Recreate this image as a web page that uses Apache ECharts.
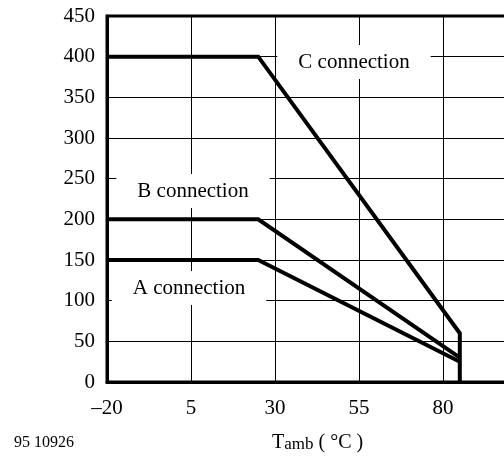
<!DOCTYPE html>
<html>
<head>
<meta charset="utf-8">
<script src="https://cdn.jsdelivr.net/npm/echarts@6/dist/echarts.min.js"></script>
<style>
  html, body { margin: 0; padding: 0; background: #fff; overflow: hidden; }
  #chart { width: 504px; height: 456px; }
</style>
</head>
<body>
<div id="chart"></div>
<script>
  // derating curves, Tamb in °C
  var tempA = [-20, 25, 85];
  var valA = [150, 150, 25];
  var tempB = [-20, 25, 85];
  var valB = [200, 200, 30];
  var tempC = [-20, 25, 85, 85];
  var valC = [400, 400, 60, 0];

  // 105 sits just past the right edge of the picture
  var xTicks = [-20, 5, 30, 55, 80, 105];
  var xLabels = [-20, 5, 30, 55, 80];
  var yMin = 0, yMax = 450, yStep = 50;

  var font = 'Liberation Serif';

  function pairs(xs, ys) {
    return xs.map(function (x, i) { return [x, ys[i]]; });
  }

  function curve(name, xs, ys) {
    return {
      name: name,
      type: 'line',
      data: pairs(xs, ys),
      symbol: 'none',
      animation: false,
      lineStyle: { color: '#000', width: 4, join: 'miter' },
      z: 3
    };
  }

  function boxLabel(text, x, y) {
    return {
      type: 'text',
      x: x,
      y: y,
      z: 1,
      style: {
        text: text,
        font: '21px "' + font + '"',
        fill: '#000',
        align: 'center',
        verticalAlign: 'middle',
        backgroundColor: '#fff',
        padding: [7, 21, 6, 21]
      }
    };
  }

  var myChart = echarts.init(document.getElementById('chart'));
  myChart.setOption({
    backgroundColor: '#fff',
    animation: false,
    grid: {
      left: 107,
      right: -23,
      top: 16,
      bottom: 74,
      outerBoundsMode: 'none',
      show: true,
      borderColor: '#000',
      borderWidth: 3
    },
    xAxis: {
      type: 'value',
      min: -20,
      max: 105,
      axisLine: { show: true, onZero: false, lineStyle: { color: '#000', width: 3 } },
      axisTick: { show: false, customValues: xTicks },
      axisLabel: {
        customValues: xLabels,
        color: '#000',
        fontFamily: font,
        fontSize: 21,
        margin: 16,
        formatter: function (v) { return v < 0 ? '\u2013' + Math.abs(v) : String(v); }
      },
      splitLine: { show: true, lineStyle: { color: '#000', width: 1 } }
    },
    yAxis: {
      type: 'value',
      min: yMin,
      max: yMax,
      interval: yStep,
      axisLine: { show: true, onZero: false, lineStyle: { color: '#000', width: 3 } },
      axisTick: { show: false },
      axisLabel: { color: '#000', fontFamily: font, fontSize: 21, margin: 12 },
      splitLine: { show: true, lineStyle: { color: '#000', width: 1 } }
    },
    series: [
      curve('A connection', tempA, valA),
      curve('B connection', tempB, valB),
      curve('C connection', tempC, valC)
    ],
    graphic: [
      boxLabel('C connection', 354, 62),
      boxLabel('B connection', 193, 191),
      boxLabel('A connection', 189, 288),
      {
        type: 'text',
        x: 272,
        y: 453,
        style: {
          text: '{t|T}{s|amb}{t| ( °C )}',
          fill: '#000',
          verticalAlign: 'bottom',
          rich: {
            t: { fontFamily: font, fontSize: 20, lineHeight: 20, verticalAlign: 'bottom' },
            s: { fontFamily: font, fontSize: 17, lineHeight: 12, verticalAlign: 'bottom' }
          }
        }
      },
      {
        type: 'text',
        x: 14,
        y: 443,
        style: {
          text: '95 10926',
          font: '16px "' + font + '"',
          fill: '#000',
          verticalAlign: 'middle'
        }
      }
    ]
  });

  window.addEventListener('resize', function () {
    myChart.resize();
  });
</script>
</body>
</html>
